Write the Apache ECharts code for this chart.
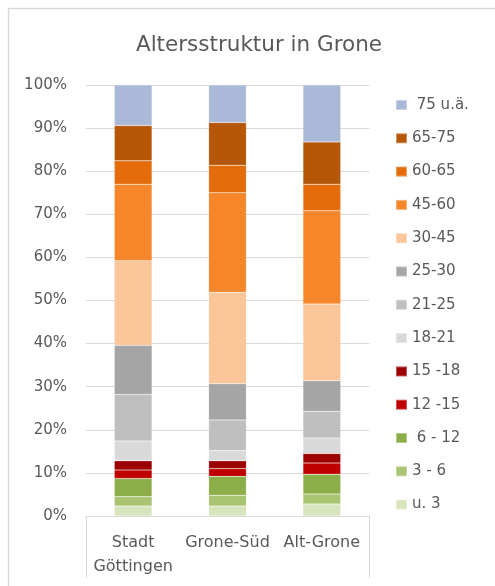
<!DOCTYPE html>
<html>
<head>
<meta charset="utf-8">
<script src="https://cdn.jsdelivr.net/npm/echarts@6/dist/echarts.min.js"></script>
<style>
  html, body { margin: 0; padding: 0; background: #ffffff; }
  #chart { width: 495px; height: 586px; }
</style>
</head>
<body>
<div id="chart"></div>
<script>
// Regions on the x axis
const categories = ['Stadt\nGöttingen', 'Grone-Süd', 'Alt-Grone'];

// Age groups, bottom of the stack first
const ageGroups = ['u. 3', '3 - 6', ' 6 - 12', '12 -15', '15 -18', '18-21', '21-25',
                   '25-30', '30-45', '45-60', '60-65', '65-75', ' 75 u.ä.'];

// Share of each age group in percent, same order as ageGroups
const stadtGoettingen = [2.3, 2.2, 4.2, 2.0, 2.1, 4.6, 10.8, 11.4, 19.6, 17.8, 5.4, 8.2, 9.4];
const groneSued       = [2.3, 2.5, 4.4, 1.8, 1.8, 2.4, 7.1, 8.4, 21.2, 23.1, 6.4, 9.9, 8.7];
const altGrone        = [2.8, 2.3, 4.6, 2.6, 2.2, 3.6, 6.2, 7.1, 17.8, 21.6, 6.2, 9.8, 13.2];

// Y axis ticks (percent)
const yTicks = { min: 0, max: 100, step: 10 };

const groupColors = ['#d8e4bc', '#a9c470', '#8cae48', '#c00000', '#9c0000', '#d9d9d9', '#bfbfbf',
                     '#a5a5a5', '#fac598', '#f6862a', '#e46c0a', '#b65708', '#aab9d7'];

const regions = [stadtGoettingen, groneSued, altGrone];
const labelColor = '#595959';
const fontFamily = 'DejaVu Sans, sans-serif';

const series = ageGroups.map((name, i) => ({
  name: name,
  type: 'bar',
  stack: 'total',
  barCategoryGap: '60%',
  data: regions.map(r => r[i]),
  itemStyle: { color: groupColors[i], borderColor: 'rgba(255,255,255,0.35)', borderWidth: 0.5 },
  emphasis: { disabled: true }
}));

const chart = echarts.init(document.getElementById('chart'), null, { renderer: 'canvas' });
chart.setOption({
  animation: false,
  backgroundColor: '#ffffff',
  textStyle: { fontFamily: fontFamily },
  title: {
    text: 'Altersstruktur in Grone',
    left: 254,
    textAlign: 'center',
    top: 29,
    textStyle: { fontFamily: fontFamily, fontSize: 21.5, fontWeight: 'normal', color: labelColor }
  },
  legend: {
    orient: 'vertical',
    left: 390,
    top: 90,
    data: ageGroups.slice().reverse(),
    icon: 'rect',
    itemWidth: 11,
    itemHeight: 10,
    itemGap: 13.3,
    selectedMode: false,
    textStyle: { fontFamily: fontFamily, fontSize: 15, color: labelColor, lineHeight: 20 }
  },
  grid: { left: 86, right: 126, top: 85, bottom: 70, containLabel: false },
  xAxis: {
    type: 'category',
    data: categories,
    axisLine: { lineStyle: { color: '#d9d9d9', width: 1 } },
    axisTick: { show: false },
    axisLabel: { color: labelColor, fontFamily: fontFamily, fontSize: 16, lineHeight: 24, margin: 15, interval: 0 }
  },
  yAxis: {
    type: 'value',
    min: yTicks.min,
    max: yTicks.max,
    interval: yTicks.step,
    axisLine: { show: false },
    axisTick: { show: false },
    axisLabel: { formatter: '{value}%', color: labelColor, fontFamily: fontFamily, fontSize: 15, margin: 19 },
    splitLine: { lineStyle: { color: '#d9d9d9', width: 1 } }
  },
  series: series,
  graphic: [
    // outer chart frame
    { type: 'rect', shape: { x: 8.5, y: 8.5, width: 520, height: 620 },
      style: { fill: 'none', stroke: '#d9d9d9', lineWidth: 1.5 }, silent: true },
    // category label box sides
    { type: 'line', shape: { x1: 86.5, y1: 516, x2: 86.5, y2: 578 },
      style: { stroke: '#d9d9d9', lineWidth: 1 }, silent: true },
    { type: 'line', shape: { x1: 369.5, y1: 516, x2: 369.5, y2: 578 },
      style: { stroke: '#d9d9d9', lineWidth: 1 }, silent: true }
  ]
});
</script>
</body>
</html>
